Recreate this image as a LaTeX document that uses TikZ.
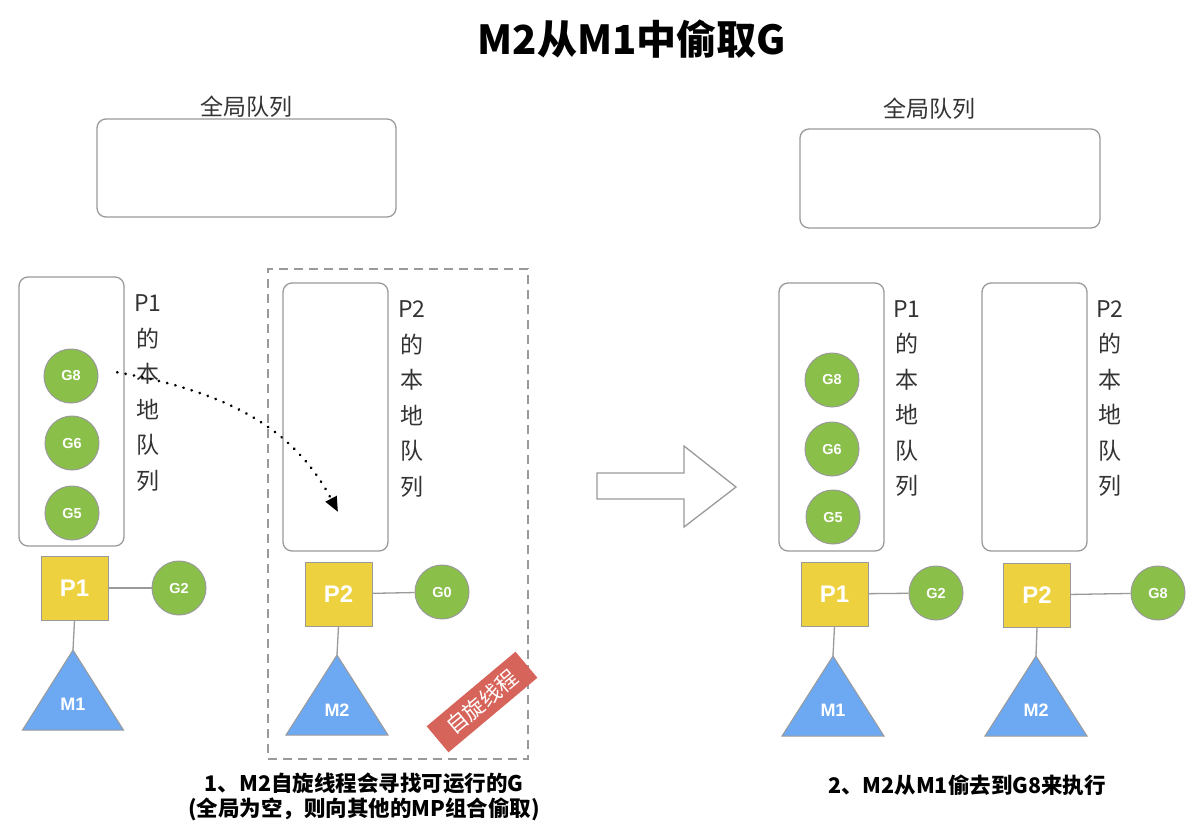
\documentclass[tikz,border=0pt]{standalone}
\usepackage{fontspec}
\setmainfont{Noto Sans CJK SC}
\newfontfamily\labelfont{Liberation Sans}
\usepackage{tikz}
\usetikzlibrary{arrows.meta}
\definecolor{line_gray}{HTML}{9A9A9A}
\definecolor{g_green}{HTML}{8ABF4A}
\definecolor{p_yellow}{HTML}{EDD13F}
\definecolor{m_blue}{HTML}{6DA8F2}
\definecolor{spin_red}{HTML}{D7645A}
\definecolor{text_gray}{HTML}{333333}

\begin{document}
\begin{tikzpicture}[x=1pt, y=-1pt,
    queue/.style={draw=line_gray, line width=1.3pt, rounded corners=9pt, inner sep=0pt},
    gnode/.style={circle, draw=line_gray, line width=1pt, fill=g_green, minimum size=54pt, inner sep=0pt,
        text=white, font=\labelfont\bfseries\fontsize{14.5}{14.5}\selectfont},
    pnode/.style={draw=line_gray, line width=1pt, fill=p_yellow, minimum width=67pt, minimum height=64pt,
        inner sep=0pt, text=white, font=\labelfont\bfseries\fontsize{24}{24}\selectfont},
    mshape/.style={draw=line_gray, line width=1pt, fill=m_blue},
    mnode/.style={text=white, font=\labelfont\bfseries\fontsize{18}{18}\selectfont},
    link/.style={draw=line_gray, line width=1.3pt},
    vlabel/.style={align=center, inner sep=0pt, text=text_gray, font=\fontsize{23}{35.5}\selectfont},
    qlabel/.style={inner sep=0pt, text=text_gray, font=\fontsize{23}{23}\selectfont},
    caption/.style={align=center, inner sep=0pt, font=\bfseries\fontsize{21.5}{25}\selectfont},
    steal/.style={line width=3pt, line cap=round, dash pattern=on 0.01pt off 8.5pt,
        -{Triangle[length=15pt, width=12pt]}},
    spinbox/.style={draw=line_gray, line width=1.3pt, dash pattern=on 9pt off 6pt, inner sep=0pt},
    stamp/.style={fill=spin_red, text=white, rotate=40, minimum width=116pt, minimum height=34pt,
        inner sep=0pt, font=\fontsize{21.5}{21.5}\selectfont},
]
\useasboundingbox (0,0) rectangle (1195,831);

\node[font=\bfseries\fontsize{40}{40}\selectfont] (title) at (632,39) {M2从M1中偷取G};

% ---- left: M2 spinning ----
\node[qlabel] (gq_left_label) at (246,107) {全局队列};
\node[queue, minimum width=299pt, minimum height=98pt] (gq_left) at (246.5,168) {};

\node[spinbox, minimum width=260pt, minimum height=490pt] (spin_area) at (398,514) {};

\node[queue, minimum width=105pt, minimum height=269pt] (lq_p1a) at (71.5,411.5) {};
\node[vlabel] (lq_p1a_label) at (148,393) {P1\\的\\本\\地\\队\\列};
\node[gnode] (g8a) at (71,376) {G8};
\node[gnode] (g6a) at (72,443) {G6};
\node[gnode] (g5a) at (72,513) {G5};

\node[queue, minimum width=105pt, minimum height=268pt] (lq_p2a) at (335.5,417) {};
\node[vlabel] (lq_p2a_label) at (412,399) {P2\\的\\本\\地\\队\\列};

\node[pnode] (p1a) at (74.5,588) {P1};
\node[gnode] (g2a) at (179,588) {G2};
\coordinate (m1a_top) at (73,650);
\filldraw[mshape] (m1a_top) -- ++(50.5,80) -- ++(-101,0) -- cycle;
\node[mnode] (m1a) at (73,704) {M1};
\draw[link] (p1a) -- (g2a);
\draw[link] (p1a.south) -- (m1a_top);

\node[pnode] (p2a) at (338.5,594) {P2};
\node[gnode] (g0a) at (442,592) {G0};
\coordinate (m2a_top) at (337,655);
\filldraw[mshape] (m2a_top) -- ++(51,80) -- ++(-102,0) -- cycle;
\node[mnode] (m2a) at (337,710) {M2};
\draw[link] (p2a) -- (g0a);
\draw[link] (p2a.south) -- (m2a_top);

\node[stamp] (spin) at (482,702) {自旋线程};

\coordinate (steal_to) at (338,512);
\draw[steal, shorten <=20pt] (g8a.15) .. controls (230,392) and (295,430) .. (steal_to);

\node[caption] (cap_left) at (364,797) {1、M2自旋线程会寻找可运行的G\\(全局为空，则向其他的MP组合偷取)};

% ---- arrow ----
\draw[line_gray, line width=1.3pt, fill=white] (597,473) -- (684,473) -- (684,446) -- (736,487)
    -- (684,527) -- (684,499) -- (597,499) -- cycle;

% ---- right: after stealing ----
\node[qlabel] (gq_right_label) at (929,109) {全局队列};
\node[queue, minimum width=300pt, minimum height=99pt] (gq_right) at (950,178.5) {};

\node[queue, minimum width=105pt, minimum height=268pt] (lq_p1b) at (831.5,417) {};
\node[vlabel] (lq_p1b_label) at (907,398.5) {P1\\的\\本\\地\\队\\列};
\node[gnode] (g8b) at (832,380) {G8};
\node[gnode] (g6b) at (832,449) {G6};
\node[gnode] (g5b) at (833,517) {G5};

\node[queue, minimum width=105pt, minimum height=268pt] (lq_p2b) at (1034.5,417) {};
\node[vlabel] (lq_p2b_label) at (1110,398.5) {P2\\的\\本\\地\\队\\列};

\node[pnode] (p1b) at (834.5,594) {P1};
\node[gnode] (g2b) at (936,593) {G2};
\coordinate (m1b_top) at (833,656);
\filldraw[mshape] (m1b_top) -- ++(51,80) -- ++(-102,0) -- cycle;
\node[mnode] (m1b) at (833,710) {M1};
\draw[link] (p1b) -- (g2b);
\draw[link] (p1b.south) -- (m1b_top);

\node[pnode] (p2b) at (1037,595) {P2};
\node[gnode] (g8c) at (1158,593) {G8};
\coordinate (m2b_top) at (1036,656);
\filldraw[mshape] (m2b_top) -- ++(51,80) -- ++(-102,0) -- cycle;
\node[mnode] (m2b) at (1036,710) {M2};
\draw[link] (p2b) -- (g8c);
\draw[link] (p2b.south) -- (m2b_top);

\node[caption] (cap_right) at (967,785) {2、M2从M1偷去到G8来执行};

\end{tikzpicture}
\end{document}
